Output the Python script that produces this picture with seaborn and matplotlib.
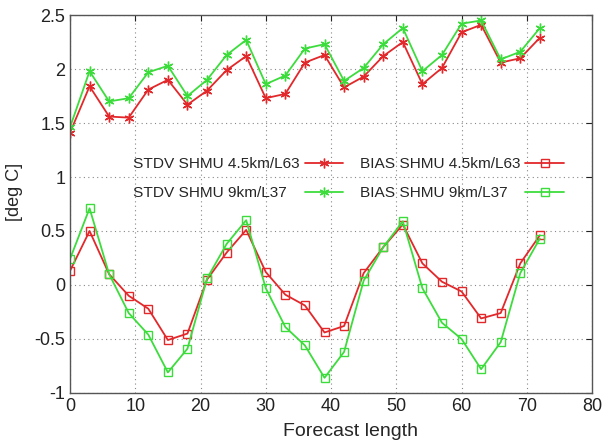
import numpy as np
import pandas as pd
import seaborn as sns
import matplotlib
matplotlib.use("Agg")
import matplotlib.pyplot as plt

# Forecast lengths (hours)
hours = list(range(0, 73, 3))

# Values
stdv_45 = [1.41, 1.84, 1.56, 1.55, 1.81, 1.90, 1.67, 1.80, 1.99, 2.12, 1.73, 1.77, 2.06,
           2.13, 1.83, 1.93, 2.12, 2.25, 1.86, 2.01, 2.34, 2.41, 2.06, 2.10, 2.29]
stdv_9 = [1.46, 1.98, 1.70, 1.73, 1.97, 2.03, 1.75, 1.90, 2.13, 2.27, 1.86, 1.94, 2.19,
          2.23, 1.89, 2.01, 2.23, 2.38, 1.98, 2.13, 2.42, 2.45, 2.09, 2.16, 2.38]
bias_45 = [0.13, 0.50, 0.10, -0.10, -0.22, -0.51, -0.45, 0.05, 0.30, 0.51, 0.12, -0.09, -0.19,
           -0.44, -0.38, 0.11, 0.35, 0.56, 0.20, 0.03, -0.06, -0.31, -0.26, 0.20, 0.46]
bias_9 = [0.24, 0.71, 0.10, -0.26, -0.46, -0.81, -0.59, 0.06, 0.38, 0.60, -0.03, -0.39, -0.56,
          -0.86, -0.62, 0.04, 0.35, 0.59, -0.03, -0.35, -0.50, -0.78, -0.53, 0.11, 0.43]

labels = ["STDV SHMU 4.5km/L63", "STDV SHMU 9km/L37",
          "BIAS SHMU 4.5km/L63", "BIAS SHMU 9km/L37"]

red = "#e2282a"
green = "#3ddc3d"

sns.set_style("white")
plt.rcParams['font.family'] = ['Liberation Sans', 'DejaVu Sans']

fig = plt.figure(figsize=(6.06, 4.43), dpi=100)
ax = fig.add_axes([0.1155, 0.113, 0.8615, 0.853])

star = (6, 2, 0)
sns.lineplot(x=hours, y=stdv_45, ax=ax, color=red, marker=star, markersize=7,
             markeredgecolor=red, markeredgewidth=1.0, linewidth=1.3, label=labels[0])
sns.lineplot(x=hours, y=stdv_9, ax=ax, color=green, marker=star, markersize=7,
             markeredgecolor=green, markeredgewidth=1.0, linewidth=1.3, label=labels[1])
sns.lineplot(x=hours, y=bias_45, ax=ax, color=red, marker="s", markersize=6,
             markerfacecolor="none", markeredgecolor=red, markeredgewidth=1.0,
             linewidth=1.3, label=labels[2])
sns.lineplot(x=hours, y=bias_9, ax=ax, color=green, marker="s", markersize=6,
             markerfacecolor="none", markeredgecolor=green, markeredgewidth=1.0,
             linewidth=1.3, label=labels[3])

ax.set_xlim(0, 80)
ax.set_ylim(-1, 2.5)
ax.set_xticks(np.arange(0, 81, 10))
ax.set_yticks(np.arange(-1, 2.51, 0.5))
ax.set_yticklabels(["-1", "-0.5", "0", "0.5", "1", "1.5", "2", "2.5"])
ax.grid(True, linestyle=(0, (1, 3)), color="#888888", linewidth=0.8)
ax.tick_params(direction="in", top=True, right=True, labelsize=13, length=4,
               colors="#222222")
for s in ax.spines.values():
    s.set_color("#555555")
    s.set_linewidth(1.0)

ax.set_xlabel("Forecast length", fontsize=14)
ax.xaxis.set_label_coords(0.538, -0.08)
ax.xaxis.label.set_va("top")
ax.set_ylabel("[deg C]", fontsize=13)
ax.yaxis.set_label_coords(-0.09, 0.532)

leg = ax.legend(loc="upper right", bbox_to_anchor=(0.972, 0.66), ncol=2, frameon=False,
                markerfirst=False, fontsize=11.1, handlelength=2.47, columnspacing=1.1,
                labelspacing=0.95, handletextpad=0.32)

# left-align the label texts inside each legend column
fig.canvas.draw()
renderer = fig.canvas.get_renderer()
texts = leg.get_texts()
cols = leg._legend_handle_box.get_children()
k = 0
for col in cols:
    rows = col.get_children()
    widths = [texts[k + i].get_window_extent(renderer).width for i in range(len(rows))]
    for i, row in enumerate(rows):
        row.sep += (max(widths) - widths[i]) * 72.0 / fig.dpi
    k += len(rows)

fig.savefig("out.png", dpi=100)
